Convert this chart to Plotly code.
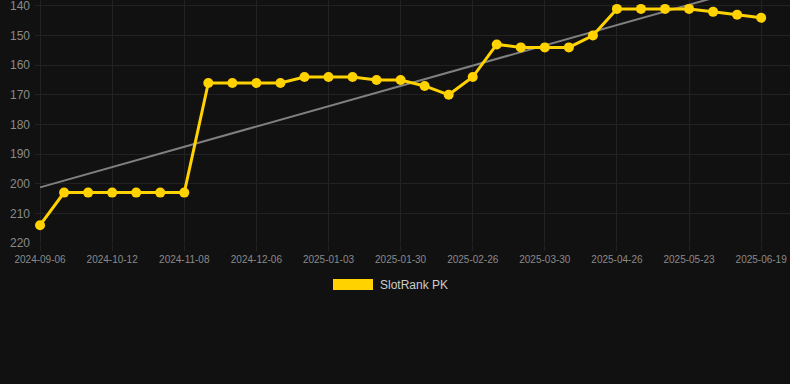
import numpy as np
import plotly.graph_objects as go

dates = [
    "2024-09-06", "2024-09-18", "2024-09-30", "2024-10-12", "2024-10-21", "2024-10-30",
    "2024-11-08", "2024-11-17", "2024-11-26", "2024-12-06", "2024-12-15", "2024-12-24",
    "2025-01-03", "2025-01-12", "2025-01-21", "2025-01-30", "2025-02-08", "2025-02-17",
    "2025-02-26", "2025-03-08", "2025-03-19", "2025-03-30", "2025-04-08", "2025-04-17",
    "2025-04-26", "2025-05-05", "2025-05-14", "2025-05-23", "2025-06-01", "2025-06-10",
    "2025-06-19",
]
rank = [
    214, 203, 203, 203, 203, 203, 203, 166, 166, 166, 166, 164, 164, 164, 165, 165,
    167, 170, 164, 153, 154, 154, 154, 150, 141, 141, 141, 141, 142, 143, 144,
]
tick_dates = dates[::3]
y_ticks = [140, 150, 160, 170, 180, 190, 200, 210, 220]
series_name = "SlotRank PK"

idx = np.arange(len(rank))
slope, intercept = np.polyfit(idx, rank, 1)
trend = slope * idx + intercept

YELLOW = "#FFD200"
BG = "#111111"
GRID = "#222222"
TICK = "#8a8a8a"

fig = go.Figure()
fig.add_trace(go.Scatter(
    x=dates, y=trend, mode="lines",
    line=dict(color="#808080", width=2),
    showlegend=False, hoverinfo="skip",
))
fig.add_trace(go.Scatter(
    x=dates, y=rank, mode="lines+markers", name=series_name,
    line=dict(color=YELLOW, width=3),
    marker=dict(color=YELLOW, size=10),
    cliponaxis=False, showlegend=False,
))

# legend drawn as a swatch + label (Chart.js style)
fig.add_shape(type="rect", xref="paper", yref="paper",
              x0=(333 - 35) / 755, x1=(373 - 35) / 755,
              y0=-(279 - 243) / 243, y1=-(290 - 243) / 243,
              fillcolor=YELLOW, line=dict(width=0))
fig.add_annotation(xref="paper", yref="paper",
                   x=(378 - 35) / 755, y=-(284.5 - 243) / 243,
                   xanchor="left", yanchor="middle", showarrow=False,
                   text=series_name,
                   font=dict(family="Liberation Sans, Arial, sans-serif", size=12, color="#cccccc"))

fig.update_layout(
    width=790, height=384,
    margin=dict(l=35, r=0, t=0, b=141),
    paper_bgcolor=BG, plot_bgcolor=BG,
    font=dict(family="Liberation Sans, Arial, sans-serif", color=TICK),
    showlegend=False,
    xaxis=dict(
        type="category", range=[-0.21, 31.2],
        tickvals=tick_dates, ticktext=tick_dates,
        showgrid=True, gridcolor=GRID, gridwidth=1,
        zeroline=False, showline=False,
        ticks="outside", ticklen=7, tickcolor=GRID,
        tickfont=dict(size=10, color=TICK),
        ticklabeloverflow="allow",
    ),
    yaxis=dict(
        range=[220, 138], tickvals=y_ticks,
        showgrid=True, gridcolor=GRID, gridwidth=1,
        zeroline=False, showline=False,
        ticks="", ticklabelstandoff=4,
        tickfont=dict(size=12, color=TICK),
        ticklabeloverflow="allow",
    ),
)

fig.write_html(
    "out.html",
    config={"displayModeBar": False},
    post_script="document.body.style.margin='0';document.body.style.background='#111111';",
)
